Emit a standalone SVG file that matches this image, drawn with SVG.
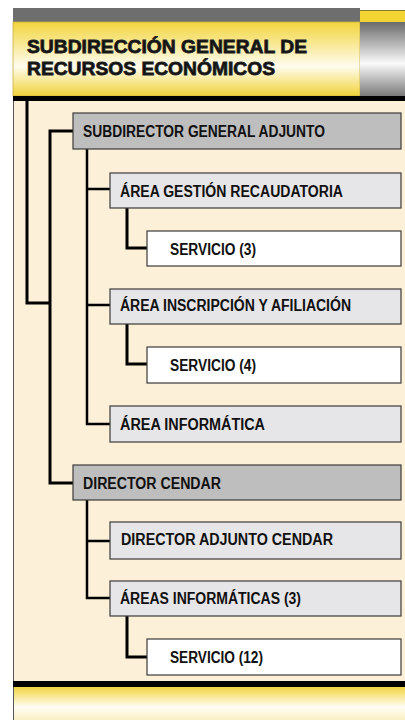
<svg xmlns="http://www.w3.org/2000/svg" width="405" height="720" viewBox="0 0 405 720">
<defs>
<linearGradient id="gy" x1="0" y1="0" x2="0" y2="1">
<stop offset="0" stop-color="#F2D53E"/>
<stop offset="0.6" stop-color="#FFFCEE"/>
<stop offset="1" stop-color="#F0D33A"/>
</linearGradient>
<linearGradient id="gg" x1="0" y1="0" x2="0" y2="1">
<stop offset="0" stop-color="#6A6A6A"/>
<stop offset="0.56" stop-color="#FAFAFA"/>
<stop offset="1" stop-color="#7A7A7A"/>
</linearGradient>
<linearGradient id="gf" x1="0" y1="0" x2="0" y2="1">
<stop offset="0" stop-color="#F2D440"/>
<stop offset="0.6" stop-color="#FFFDF4"/>
<stop offset="1" stop-color="#FBF0C4"/>
</linearGradient>
<style>
.b{stroke:#3A3A3A;stroke-width:1.2}
.l1{fill:#BEBEBE}
.l2{fill:#E6E6E8}
.l3{fill:#FFFFFF}
.t{font-family:"Liberation Sans",Arial,sans-serif;font-weight:bold;font-size:16px;fill:#111}
.h{font-family:"Liberation Sans",Arial,sans-serif;font-weight:900;font-size:18px;fill:#111;stroke:#222;stroke-width:0.8}
.c{fill:none;stroke:#000;stroke-width:3}
.c2{fill:none;stroke:#000;stroke-width:2.5}
</style>
</defs>
<rect x="0" y="0" width="405" height="720" fill="#FFFFFF"/>
<g id="background">
<rect x="13" y="96" width="392" height="624" fill="#FCF1D8"/>
<line x1="13.5" y1="96" x2="13.5" y2="720" stroke="#555" stroke-width="1"/>
<rect x="13" y="8" width="347" height="14" fill="#6E6E6E"/>
<rect x="360" y="10" width="45" height="12" fill="#F2D532"/>
<line x1="360" y1="10.5" x2="405" y2="10.5" stroke="#8A7A30" stroke-width="1"/>
<rect x="13" y="22" width="347" height="74" fill="url(#gy)" stroke="#C9B040" stroke-width="0.8"/>
<rect x="360" y="22" width="45" height="74" fill="url(#gg)"/>
<rect x="13" y="96" width="392" height="5" fill="#000"/>
<rect x="13" y="681" width="392" height="6" fill="#000"/>
<rect x="14" y="687" width="391" height="33" fill="url(#gf)"/>
</g>
<g id="header">
<text class="h" x="27" y="53" textLength="280" lengthAdjust="spacingAndGlyphs">SUBDIRECCIÓN GENERAL DE</text>
<text class="h" x="27" y="75" textLength="248" lengthAdjust="spacingAndGlyphs">RECURSOS ECONÓMICOS</text>
</g>
<g id="connectors">
<path class="c" d="M27,101 V303 H50"/>
<path class="c" d="M73,131 H50 V483 H73"/>
<path class="c2" d="M87,149 V424 H110 M87,189 H110 M87,305 H110"/>
<path class="c" d="M127,208 V248 H147"/>
<path class="c" d="M127,324 V364 H147"/>
<path class="c2" d="M87,500 V598 H110 M87,541 H110"/>
<path class="c" d="M127,616 V657 H147"/>
</g>
<g id="n1">
<rect class="b l1" x="73" y="113" width="328" height="36"/>
<text class="t" x="83" y="137" textLength="242" lengthAdjust="spacingAndGlyphs">SUBDIRECTOR GENERAL ADJUNTO</text>
</g>
<g id="n2">
<rect class="b l2" x="110" y="173" width="291" height="35"/>
<text class="t" x="120" y="197" textLength="223" lengthAdjust="spacingAndGlyphs">ÁREA GESTIÓN RECAUDATORIA</text>
</g>
<g id="n3">
<rect class="b l3" x="147" y="231" width="254" height="35"/>
<text class="t" x="170" y="255" textLength="86" lengthAdjust="spacingAndGlyphs">SERVICIO (3)</text>
</g>
<g id="n4">
<rect class="b l2" x="110" y="289" width="291" height="35"/>
<text class="t" x="120" y="311" textLength="231" lengthAdjust="spacingAndGlyphs">ÁREA INSCRIPCIÓN Y AFILIACIÓN</text>
</g>
<g id="n5">
<rect class="b l3" x="147" y="347" width="254" height="36"/>
<text class="t" x="170" y="371" textLength="86" lengthAdjust="spacingAndGlyphs">SERVICIO (4)</text>
</g>
<g id="n6">
<rect class="b l2" x="110" y="406" width="291" height="36"/>
<text class="t" x="120" y="430" textLength="145" lengthAdjust="spacingAndGlyphs">ÁREA INFORMÁTICA</text>
</g>
<g id="n7">
<rect class="b l1" x="73" y="465" width="328" height="35"/>
<text class="t" x="83" y="489" textLength="138" lengthAdjust="spacingAndGlyphs">DIRECTOR CENDAR</text>
</g>
<g id="n8">
<rect class="b l2" x="110" y="522" width="291" height="37"/>
<text class="t" x="121" y="545" textLength="212" lengthAdjust="spacingAndGlyphs">DIRECTOR ADJUNTO CENDAR</text>
</g>
<g id="n9">
<rect class="b l2" x="110" y="581" width="291" height="35"/>
<text class="t" x="120" y="604" textLength="181" lengthAdjust="spacingAndGlyphs">ÁREAS INFORMÁTICAS (3)</text>
</g>
<g id="n10">
<rect class="b l3" x="147" y="639" width="254" height="36"/>
<text class="t" x="170" y="663" textLength="93" lengthAdjust="spacingAndGlyphs">SERVICIO (12)</text>
</g>
</svg>
